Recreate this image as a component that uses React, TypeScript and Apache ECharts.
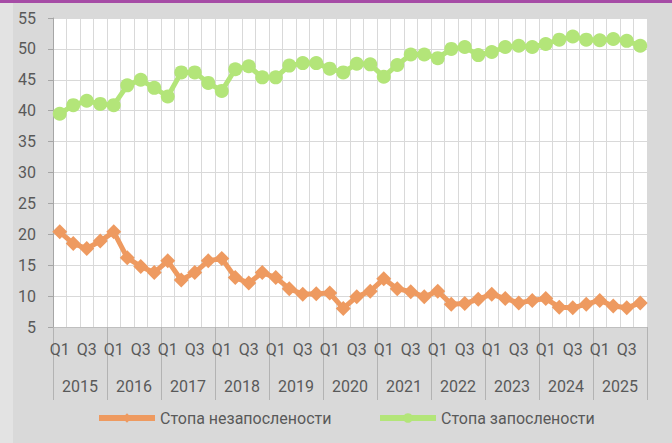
import { useEffect, useRef } from 'react';
import * as echarts from 'echarts';

const years = ['2015', '2016', '2017', '2018', '2019', '2020', '2021', '2022', '2023', '2024', '2025'];
const quarterNames = ['Q1', 'Q2', 'Q3', 'Q4'];

const unemploymentRate = [
  20.4, 18.5, 17.7, 18.9,
  20.4, 16.2, 14.8, 13.8,
  15.7, 12.6, 13.8, 15.7,
  16.1, 13.0, 12.1, 13.8,
  13.0, 11.2, 10.3, 10.4,
  10.5, 8.0, 9.9, 10.8,
  12.8, 11.2, 10.7, 9.9,
  10.8, 8.7, 8.8, 9.5,
  10.3, 9.6, 8.9, 9.3,
  9.6, 8.2, 8.1, 8.7,
  9.3, 8.4, 8.1, 8.9,
];

const employmentRate = [
  39.5, 40.9, 41.6, 41.1,
  40.9, 44.1, 45.0, 43.7,
  42.3, 46.2, 46.2, 44.5,
  43.2, 46.7, 47.2, 45.4,
  45.4, 47.3, 47.7, 47.7,
  46.8, 46.2, 47.6, 47.5,
  45.5, 47.4, 49.1, 49.1,
  48.5, 50.0, 50.3, 49.0,
  49.5, 50.3, 50.5, 50.3,
  50.8, 51.5, 52.0, 51.5,
  51.4, 51.6, 51.3, 50.5,
];

const seriesNames = ['Стопа незапослености', 'Стопа запослености'];
const seriesColors = ['#ee9a60', '#b3e579'];

const FONT = 'Roboto';
const TEXT_COLOR = '#595959';

export default function App() {
  const ref = useRef<HTMLDivElement>(null);

  useEffect(() => {
    document.body.style.margin = '0';
    if (!ref.current) return;
    const chart = echarts.init(ref.current, null, { renderer: 'svg' });

    const quarterCategories: string[] = [];
    years.forEach(() => quarterNames.forEach((q) => quarterCategories.push(q)));

    const labelStyle = { color: TEXT_COLOR, fontSize: 16, fontFamily: FONT };

    chart.setOption({
      animation: false,
      backgroundColor: '#d9d9d9',
      graphic: [
        { type: 'rect', shape: { x: 0, y: 0, width: 13, height: 443 }, style: { fill: '#e3e3e3' }, silent: true },
        { type: 'rect', shape: { x: 0, y: 0, width: 672, height: 3 }, style: { fill: '#a64ca6' }, silent: true },
      ],
      grid: {
        left: 53,
        right: 25,
        top: 18,
        bottom: 116,
        show: true,
        backgroundColor: '#ffffff',
        borderWidth: 0,
      },
      legend: [
        {
          data: [seriesNames[0]],
          left: 91,
          top: 405,
          itemWidth: 56,
          itemHeight: 12,
          lineStyle: { width: 6 },
          textStyle: labelStyle,
        },
        {
          data: [seriesNames[1]],
          left: 372,
          top: 405,
          itemWidth: 56,
          itemHeight: 12,
          lineStyle: { width: 6 },
          textStyle: labelStyle,
        },
      ],
      xAxis: [
        {
          type: 'category',
          position: 'bottom',
          data: quarterCategories,
          boundaryGap: true,
          axisLine: { show: true, onZero: false, lineStyle: { color: '#bfbfbf', width: 1 } },
          axisTick: { show: false },
          axisLabel: { ...labelStyle, interval: 1, margin: 14 },
          splitLine: { show: true, interval: 0, lineStyle: { color: '#d9d9d9', width: 1 } },
        },
        {
          type: 'category',
          position: 'bottom',
          data: years,
          boundaryGap: true,
          axisLine: { show: true, onZero: false, lineStyle: { color: '#bfbfbf', width: 1 } },
          axisTick: { show: true, length: 73, interval: 0, lineStyle: { color: '#b3b3b3', width: 1 } },
          axisLabel: { ...labelStyle, interval: 0, margin: 51 },
          splitLine: { show: false },
        },
      ],
      yAxis: {
        type: 'value',
        min: 5,
        max: 55,
        interval: 5,
        axisLine: { show: true, lineStyle: { color: '#a6a6a6', width: 1 } },
        axisTick: { show: true, length: 5, lineStyle: { color: '#a6a6a6' } },
        axisLabel: { ...labelStyle, margin: 17 },
        splitLine: { show: true, lineStyle: { color: '#d9d9d9', width: 1 } },
      },
      series: [
        {
          name: seriesNames[0],
          type: 'line',
          xAxisIndex: 0,
          data: unemploymentRate,
          symbol: 'diamond',
          symbolSize: 15,
          showSymbol: true,
          showAllSymbol: true,
          lineStyle: { color: seriesColors[0], width: 5 },
          itemStyle: { color: seriesColors[0] },
        },
        {
          name: seriesNames[1],
          type: 'line',
          xAxisIndex: 0,
          data: employmentRate,
          symbol: 'circle',
          symbolSize: 14,
          showSymbol: true,
          showAllSymbol: true,
          lineStyle: { color: seriesColors[1], width: 5 },
          itemStyle: { color: seriesColors[1] },
        },
      ],
    });

    return () => chart.dispose();
  }, []);

  return <div ref={ref} style={{ width: 672, height: 443 }} />;
}
